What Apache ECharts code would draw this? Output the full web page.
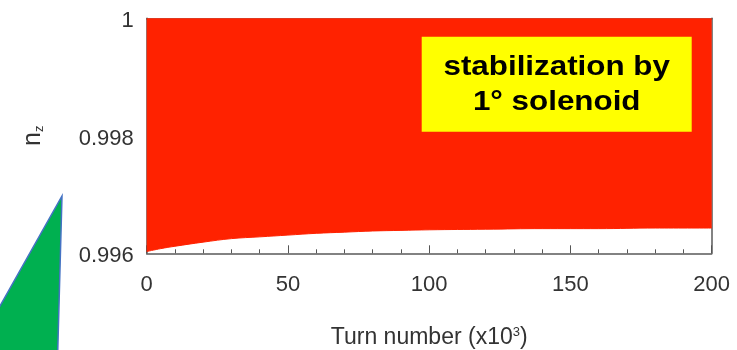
<!DOCTYPE html>
<html>
<head>
<meta charset="utf-8">
<script src="https://cdn.jsdelivr.net/npm/echarts@6/dist/echarts.min.js"></script>
<style>
  html, body { margin: 0; padding: 0; background: #ffffff; }
  #chart { width: 737px; height: 350px; }
</style>
</head>
<body>
<div id="chart"></div>
<script>
// ---- data ----
var turns = [0, 5, 10, 20, 30, 40, 50, 60, 70, 80, 90, 100, 120, 140, 160, 180, 200];
var lowerEdge = [0.99603, 0.99608, 0.99612, 0.99619, 0.99625, 0.99628, 0.99631, 0.99634, 0.99636,
                 0.99638, 0.99639, 0.99640, 0.99641, 0.99642, 0.99642, 0.99643, 0.99643];
var xTickLabels = ['0', '50', '100', '150', '200'];
var yTickLabels = ['0.996', '0.998', '1'];
var xTickValues = [0, 50, 100, 150, 200];
var yTickValues = [0.996, 0.998, 1];
var noteLines = ['stabilization by', '1\u00B0 solenoid'];

var FONT = "'Liberation Sans', Arial, Helvetica, sans-serif";
var labelColor = '#333333';
var frameColor = '#5a5a5a';

function labelFor(values, labels, v) {
  for (var i = 0; i < values.length; i++) {
    if (Math.abs(values[i] - v) < 1e-7) return labels[i];
  }
  return '';
}

var seriesData = turns.map(function (t, i) { return [t, lowerEdge[i]]; });

var chart = echarts.init(document.getElementById('chart'), null, { renderer: 'canvas' });

var option = {
  animation: false,
  backgroundColor: '#ffffff',
  grid: { left: 146.7, right: 25.3, top: 18.3, bottom: 96.7, containLabel: false, outerBoundsMode: 'none' },
  xAxis: [{
    type: 'value', min: 0, max: 200, interval: 50, position: 'bottom',
    axisLine: { show: true, onZero: false, lineStyle: { color: frameColor, width: 1.5 } },
    axisTick: { show: true, inside: true, length: 8, lineStyle: { color: '#555', width: 1 } },
    minorTick: { show: true, splitNumber: 5, length: 4, lineStyle: { color: '#555', width: 1 } },
    splitLine: { show: false },
    axisLabel: {
      margin: 21, fontSize: 22, fontFamily: FONT, color: labelColor,
      formatter: function (v) { return labelFor(xTickValues, xTickLabels, v); }
    },
    name: '{a|Turn number (x10}{s|3}{a|)}',
    nameLocation: 'middle', nameGap: 73,
    nameTextStyle: {
      rich: {
        a: { fontSize: 23, fontFamily: FONT, color: labelColor },
        s: { fontSize: 13, fontFamily: FONT, color: labelColor, verticalAlign: 'top' }
      }
    }
  }, {
    type: 'value', min: 0, max: 200, position: 'top',
    axisLine: { show: true, onZero: false, lineStyle: { color: frameColor, width: 1.5 } },
    axisTick: { show: false }, axisLabel: { show: false }, splitLine: { show: false }
  }],
  yAxis: [{
    type: 'value', min: 0.996, max: 1, interval: 0.002, position: 'left',
    axisLine: { show: true, onZero: false, lineStyle: { color: frameColor, width: 1.5 } },
    axisTick: { show: false },
    splitLine: { show: false },
    axisLabel: {
      margin: 13, color: labelColor,
      formatter: function (v) { return '{v|' + labelFor(yTickValues, yTickLabels, v) + '}'; },
      rich: {
        v: { fontSize: 22, fontFamily: FONT, color: labelColor, lineHeight: 28, verticalAlign: 'bottom' }
      }
    },
    name: '{n|n}{z|z}',
    nameLocation: 'middle', nameRotate: 90, nameGap: 101,
    nameTextStyle: {
      rich: {
        n: { fontSize: 25, fontFamily: FONT, color: labelColor },
        z: { fontSize: 13, fontFamily: FONT, color: labelColor, verticalAlign: 'bottom' }
      }
    }
  }, {
    type: 'value', min: 0.996, max: 1, position: 'right',
    axisLine: { show: true, onZero: false, lineStyle: { color: frameColor, width: 1.5 } },
    axisTick: { show: false }, axisLabel: { show: false }, splitLine: { show: false }
  }],
  series: [{
    type: 'line',
    xAxisIndex: 0, yAxisIndex: 0,
    data: seriesData,
    showSymbol: false,
    smooth: 0.4,
    z: 1,
    lineStyle: { color: '#ff2200', width: 1 },
    areaStyle: { origin: 'end', color: '#ff2200', opacity: 1 }
  }],
  graphic: [
    {
      type: 'polygon', z: 100,
      shape: { points: [[62, 196], [57.5, 360], [-30.4, 360]] },
      style: { fill: '#00b050', stroke: '#4472c4', lineWidth: 1.5 }
    },
    {
      type: 'rect', z: 100,
      shape: { x: 421.7, y: 36.7, width: 270, height: 95 },
      style: { fill: '#ffff00' }
    },
    {
      type: 'text', z: 101, x: 556.7, y: 67, scaleX: 1.12,
      style: { text: noteLines[0], fill: '#000', font: "bold 28px 'Liberation Sans', Arial, sans-serif",
               textAlign: 'center', textVerticalAlign: 'middle' }
    },
    {
      type: 'text', z: 101, x: 556.7, y: 102, scaleX: 1.12,
      style: { text: noteLines[1], fill: '#000', font: "bold 28px 'Liberation Sans', Arial, sans-serif",
               textAlign: 'center', textVerticalAlign: 'middle' }
    }
  ]
};

chart.setOption(option);
</script>
</body>
</html>
